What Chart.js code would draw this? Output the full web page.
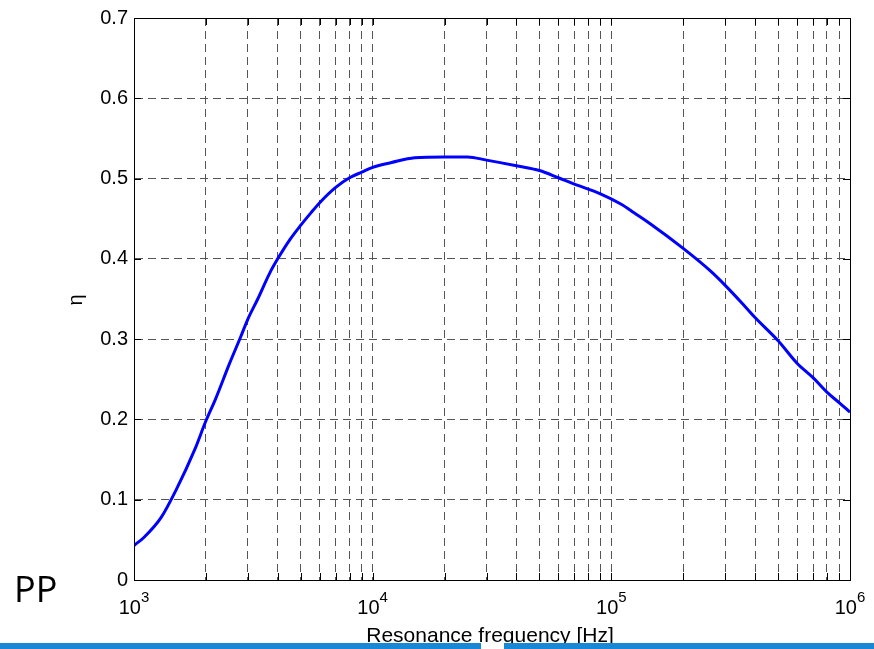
<!DOCTYPE html>
<html>
<head>
<meta charset="utf-8">
<script src="https://cdn.jsdelivr.net/npm/chart.js@4.4.0/dist/chart.umd.min.js"></script>
<style>
body { margin: 0; background: #fff; }
#wrap { position: relative; width: 874px; height: 649px; overflow: hidden; }
canvas { position: absolute; left: 0; top: 0; }
.bar { position: absolute; top: 643px; height: 6px; background: #1787d6; }
</style>
</head>
<body>
<div id="wrap">
<canvas id="myChart" width="874" height="649"></canvas>
<div class="bar" style="left:0;width:481px"></div>
<div class="bar" style="left:504px;width:370px"></div>
</div>
<script>
// resonance frequency [Hz]
var freqs = [1000, 1100, 1300, 1500, 1800, 2000, 2200, 2500, 2800, 3000,
    3300, 3700, 4000, 4500, 5000, 5500, 6000, 7000, 8000, 9000,
    10000, 12000, 15000, 20000, 25000, 30000, 40000, 50000, 60000, 70000,
    90000, 110000, 125000, 145000, 200000, 260000, 300000, 360000, 400000, 500000,
    600000, 700000, 800000, 900000, 1000000];
// eta
var eta = [0.043, 0.053, 0.078, 0.112, 0.163, 0.198, 0.226, 0.268, 0.303, 0.325,
    0.350, 0.382, 0.400, 0.424, 0.442, 0.457, 0.470, 0.489, 0.501, 0.508,
    0.514, 0.520, 0.526, 0.527, 0.527, 0.523, 0.516, 0.510, 0.501, 0.493,
    0.481, 0.468, 0.457, 0.444, 0.413, 0.385, 0.367, 0.342, 0.327, 0.298,
    0.270, 0.252, 0.234, 0.221, 0.209];

var xGrid = [1e3, 2e3, 3e3, 4e3, 5e3, 6e3, 7e3, 8e3, 9e3,
    1e4, 2e4, 3e4, 4e4, 5e4, 6e4, 7e4, 8e4, 9e4,
    1e5, 2e5, 3e5, 4e5, 5e5, 6e5, 7e5, 8e5, 9e5, 1e6];
var xExps = [3, 4, 5, 6];
var yTicks = [0, 0.1, 0.2, 0.3, 0.4, 0.5, 0.6, 0.7];
var yLabels = ['0', '0.1', '0.2', '0.3', '0.4', '0.5', '0.6', '0.7'];

var FONT = 'Liberation Sans, Arial, sans-serif';

// box, inner ticks and the text that chart.js can't lay out the matlab way
var matlabLook = {
    id: 'matlabLook',
    afterDraw: function(chart) {
        var ctx = chart.ctx;
        var a = chart.chartArea;
        var xs = chart.scales.x, ys = chart.scales.y;
        ctx.save();
        ctx.strokeStyle = '#000';
        ctx.lineWidth = 1;
        ctx.strokeRect(Math.round(a.left) + 0.5, Math.round(a.top) + 0.5,
            Math.round(a.right - a.left), Math.round(a.bottom - a.top));
        ctx.beginPath();
        xGrid.forEach(function(v) {
            var x = Math.round(xs.getPixelForValue(v)) + 0.5;
            ctx.moveTo(x, a.bottom); ctx.lineTo(x, a.bottom - 7);
            ctx.moveTo(x, a.top); ctx.lineTo(x, a.top + 7);
        });
        yTicks.forEach(function(v) {
            var y = Math.round(ys.getPixelForValue(v)) + 0.5;
            ctx.moveTo(a.left, y); ctx.lineTo(a.left + 7, y);
            ctx.moveTo(a.right, y); ctx.lineTo(a.right - 7, y);
        });
        ctx.stroke();

        ctx.fillStyle = '#000';
        ctx.textBaseline = 'alphabetic';
        ctx.textAlign = 'left';
        xExps.forEach(function(e) {
            var x = xs.getPixelForValue(Math.pow(10, e));
            ctx.font = '20px ' + FONT;
            var w1 = ctx.measureText('10').width;
            ctx.font = '15px ' + FONT;
            var w2 = ctx.measureText(String(e)).width;
            var x0 = x - (w1 + w2) / 2;
            ctx.font = '20px ' + FONT;
            ctx.fillText('10', x0, 614);
            ctx.font = '15px ' + FONT;
            ctx.fillText(String(e), x0 + w1, 602);
        });

        ctx.font = '21px ' + FONT;
        ctx.textAlign = 'center';
        ctx.fillText('Resonance frequency [Hz]', 490, 642);

        ctx.font = '20px ' + FONT;
        ctx.save();
        ctx.translate(82, 300);
        ctx.rotate(-Math.PI / 2);
        ctx.fillText('\u03b7', 0, 0);
        ctx.restore();

        ctx.textAlign = 'left';
        ctx.font = '36px "Open Sans", sans-serif';
        ctx.fillText('PP', 14, 602);
        ctx.restore();
    }
};

function createChart() {
    var ctx = document.getElementById('myChart');
    new Chart(ctx, {
        type: 'line',
        data: {
            datasets: [{
                data: freqs.map(function(f, i) { return {x: f, y: eta[i]}; }),
                borderColor: '#0000ff',
                borderWidth: 3,
                pointRadius: 0,
                cubicInterpolationMode: 'monotone',
                fill: false
            }]
        },
        options: {
            responsive: false,
            animation: false,
            devicePixelRatio: 1,
            layout: { padding: { left: 0, right: 24, top: 17, bottom: 0 } },
            plugins: { legend: { display: false }, tooltip: { enabled: false } },
            scales: {
                x: {
                    type: 'logarithmic',
                    min: 1000,
                    max: 1000000,
                    afterBuildTicks: function(s) { s.ticks = xGrid.map(function(v) { return {value: v}; }); },
                    afterFit: function(s) { s.height = 69; },
                    ticks: { display: false },
                    grid: { color: '#555', lineWidth: 1, drawTicks: false },
                    border: { display: true, color: '#000', width: 1, dash: [8, 5] }
                },
                y: {
                    min: 0,
                    max: 0.7,
                    afterBuildTicks: function(s) { s.ticks = yTicks.map(function(v) { return {value: v}; }); },
                    afterFit: function(s) { s.width = 134; },
                    ticks: {
                        color: '#000',
                        padding: 6,
                        font: { family: FONT, size: 20 },
                        callback: function(v, i) { return yLabels[i]; }
                    },
                    grid: { color: '#555', lineWidth: 1, drawTicks: false },
                    border: { display: true, color: '#000', width: 1, dash: [8, 5] }
                }
            }
        },
        plugins: [matlabLook]
    });
}
createChart();
</script>
</body>
</html>
